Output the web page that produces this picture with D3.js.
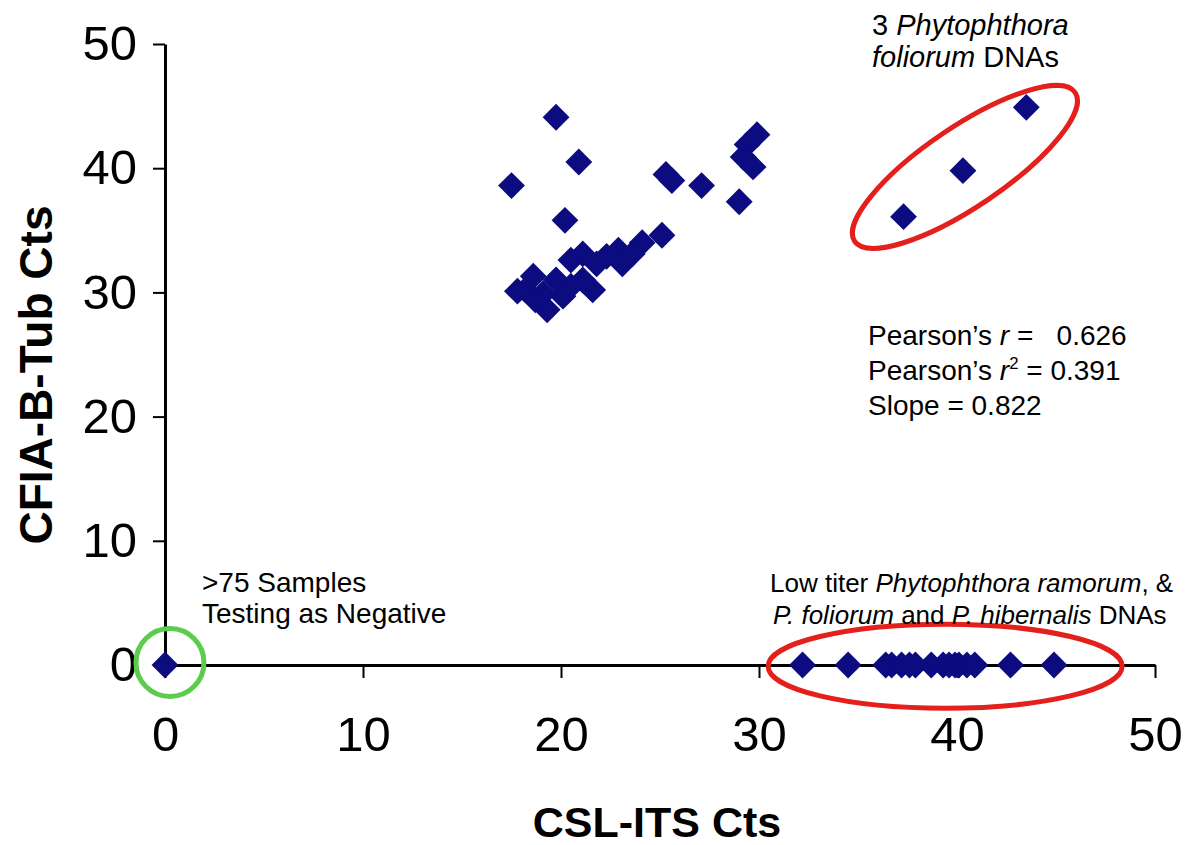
<!DOCTYPE html>
<html>
<head>
<meta charset="utf-8">
<script src="https://cdn.jsdelivr.net/npm/d3@7"></script>
<style>
  body { margin: 0; background: #fff; }
  svg text { font-family: 'Liberation Sans', Arial, sans-serif; fill: #000; white-space: pre; }
</style>
</head>
<body>
<svg id="chart" width="1188" height="845"></svg>
<script>
// samples positive in both assays: CSL-ITS Ct (x) and CFIA-B-Tub Ct (y)
const cslIts = [19.75, 20.9, 17.5, 20.2, 25.3, 25.6, 27.1, 29.9, 29.4, 29.2, 29.7, 29.0,
  25.1, 24.1, 23.6, 22.9, 23.1, 22.3, 21.8, 21.1, 20.5, 21.6, 21.1, 20.5, 20.1,
  19.75, 19.3, 19.1, 18.6, 18.2, 17.8, 18.7]
const cfiaTub = [44.1, 40.5, 38.6, 35.8, 39.5, 39.0, 38.6, 42.7, 41.9, 40.9, 40.1, 37.3,
  34.6, 34.0, 33.1, 33.4, 32.3, 32.9, 32.3, 33.1, 32.6, 30.2, 31.0, 30.5, 29.7,
  31.0, 28.6, 29.9, 31.3, 30.2, 30.1, 29.4]

// the 3 P. foliorum DNAs
const foliorumCsl = [37.3, 40.3, 43.5]
const foliorumCfia = [36.1, 39.8, 44.9]

// low titer samples, negative in CFIA-B-Tub (y = 0)
const lowTiterCsl = [32.2, 34.5, 36.4, 36.7, 37.2, 37.6, 37.9, 38.7, 39.3, 39.6, 39.9,
  40.1, 40.5, 40.9, 42.7, 44.9]

// >75 samples negative in both
const negativeCsl = [0]

const tickValues = [0, 10, 20, 30, 40, 50]
const statLabels = ['0.626', '0.391', '0.822']

const svg = d3.select('#chart')

const x = d3.scaleLinear().domain([0, 50]).range([165, 1155])
const y = d3.scaleLinear().domain([0, 50]).range([665, 44])

// axes
const xAxis = svg.append('g')
  .attr('transform', `translate(0,${y(0)})`)
  .call(d3.axisBottom(x).tickValues(tickValues).tickSize(13).tickPadding(38).tickSizeOuter(0))
const yAxis = svg.append('g')
  .attr('transform', `translate(${x(0)},0)`)
  .call(d3.axisLeft(y).tickValues(tickValues).tickSize(12).tickPadding(16).tickSizeOuter(0))

;[xAxis, yAxis].forEach(a => {
  a.select('.domain').attr('stroke', '#000').attr('stroke-width', 3)
  a.selectAll('.tick line').attr('stroke', '#000').attr('stroke-width', 2)
  a.selectAll('.tick text')
    .attr('font-family', "'Liberation Sans', Arial, sans-serif")
    .attr('font-size', 49)
    .attr('fill', '#000')
})

// axis titles
svg.append('text')
  .attr('x', 657).attr('y', 837)
  .attr('text-anchor', 'middle')
  .attr('font-size', 43).attr('font-weight', 'bold')
  .text('CSL-ITS Cts')

svg.append('text')
  .attr('transform', 'translate(52,375) rotate(-90)')
  .attr('text-anchor', 'middle')
  .attr('font-size', 46).attr('font-weight', 'bold')
  .text('CFIA-B-Tub Cts')

// build point list from the arrays
let points = cslIts.map((v, i) => ({ cx: v, cy: cfiaTub[i] }))
points = points.concat(foliorumCsl.map((v, i) => ({ cx: v, cy: foliorumCfia[i] })))
points = points.concat(lowTiterCsl.map(v => ({ cx: v, cy: 0 })))
points = points.concat(negativeCsl.map(v => ({ cx: v, cy: 0 })))

const diamond = d3.symbol().type(d3.symbolSquare).size(360)

svg.append('g').selectAll('path')
  .data(points)
  .enter()
  .append('path')
  .attr('d', diamond)
  .attr('fill', '#0c0c80')
  .attr('transform', d => `translate(${x(d.cx)},${y(d.cy)}) rotate(45)`)

// rings round the groups
svg.append('ellipse')
  .attr('rx', 133).attr('ry', 40)
  .attr('transform', `translate(${x(40.4)},${y(40.1)}) rotate(-34)`)
  .attr('fill', 'none').attr('stroke', '#e3201b').attr('stroke-width', 5)

svg.append('ellipse')
  .attr('cx', x(39.4)).attr('cy', y(-0.1))
  .attr('rx', 177).attr('ry', 42)
  .attr('fill', 'none').attr('stroke', '#e3201b').attr('stroke-width', 5)

svg.append('circle')
  .attr('cx', x(0.25)).attr('cy', y(0.2))
  .attr('r', 34)
  .attr('fill', 'none').attr('stroke', '#5ccc4c').attr('stroke-width', 5)

// annotations
function addLine (px, py, size, parts) {
  const t = svg.append('text').attr('x', px).attr('y', py).attr('font-size', size)
  parts.forEach(p => {
    const s = t.append('tspan').text(p[0])
    if (p[1] === 'i') s.attr('font-style', 'italic')
    if (p[1] === 'sup') s.attr('font-size', size * 0.6).attr('dy', -11)
    if (p[1] === 'down') s.attr('dy', 11)
  })
}

addLine(872, 35, 29, [['3 '], ['Phytophthora', 'i']])
addLine(872, 67, 29, [['foliorum', 'i'], [' DNAs']])

addLine(868, 345, 28, [['Pearson’s '], ['r', 'i'], [' =   ' + statLabels[0]]])
addLine(868, 380, 28, [['Pearson’s '], ['r', 'i'], ['2', 'sup'], [' = ' + statLabels[1], 'down']])
addLine(868, 415, 28, [['Slope = ' + statLabels[2]]])

addLine(202, 592, 28, [['>75 Samples']])
addLine(202, 623, 28, [['Testing as Negative']])

addLine(770, 592, 26, [['Low titer '], ['Phytophthora ramorum', 'i'], [', &']])
addLine(773, 624, 26, [['P. foliorum', 'i'], [' and '], ['P. hibernalis', 'i'], [' DNAs']])
</script>
</body>
</html>
